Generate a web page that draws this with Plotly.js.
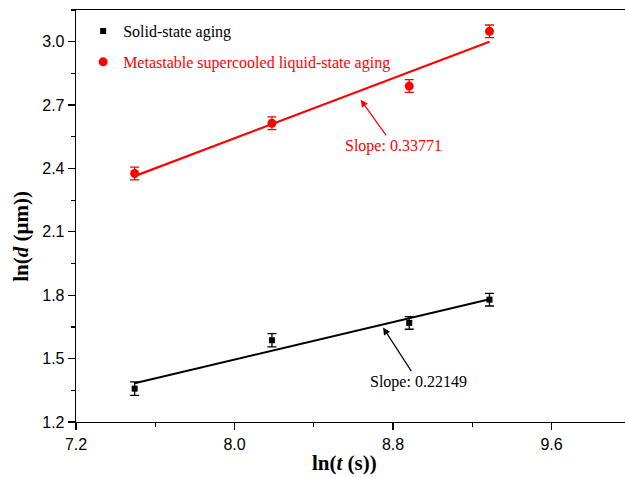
<!DOCTYPE html>
<html>
<head>
<meta charset="utf-8">
<script src="https://cdn.plot.ly/plotly-3.0.1.min.js"></script>
<style>html,body{margin:0;padding:0;background:#fff;}#chart{width:625px;height:477px;}</style>
</head>
<body>
<div id="chart"></div>
<script>
// ln(t) values (s)
const lnT = [7.496, 8.189, 8.882, 9.287];
// Solid-state aging ln(d)
const solidY = [1.358, 1.587, 1.669, 1.779];
const solidErr = [0.032, 0.031, 0.030, 0.030];
// Metastable supercooled liquid-state aging ln(d)
const liquidY = [2.376, 2.614, 2.790, 3.049];
const liquidErr = [0.030, 0.030, 0.030, 0.030];
const seriesNames = ['Solid-state aging', 'Metastable supercooled liquid-state aging'];
const slopeLabels = ['Slope: 0.22149', 'Slope: 0.33771'];
const xTicks = [7.2, 8.0, 8.8, 9.6];
const yTicks = [1.2, 1.5, 1.8, 2.1, 2.4, 2.7, 3.0];

function linfit(x, y) {
  const n = x.length;
  const mx = x.reduce((a, b) => a + b, 0) / n;
  const my = y.reduce((a, b) => a + b, 0) / n;
  let sxy = 0, sxx = 0;
  for (let i = 0; i < n; i++) { sxy += (x[i] - mx) * (y[i] - my); sxx += (x[i] - mx) ** 2; }
  const m = sxy / sxx;
  return { m: m, b: my - m * mx };
}
function fitLine(x, y) {
  const f = linfit(x, y);
  const xs = [x[0], x[x.length - 1]];
  return { x: xs, y: xs.map(v => f.m * v + f.b), f: f };
}
const fS = fitLine(lnT, solidY);
const fL = fitLine(lnT, liquidY);

const serif = 'Liberation Serif, Times New Roman, serif';
const sans = 'Liberation Sans, Arial, sans-serif';

const traces = [
  { x: fS.x, y: fS.y, mode: 'lines', line: { color: '#000', width: 2 }, showlegend: false, hoverinfo: 'skip' },
  { x: fL.x, y: fL.y, mode: 'lines', line: { color: '#ff0000', width: 2.2 }, showlegend: false, hoverinfo: 'skip' },
  { x: lnT, y: solidY, mode: 'markers', name: seriesNames[0], legendgroup: 'a',
    marker: { symbol: 'square', size: 6, color: '#000' },
    error_y: { type: 'data', array: solidErr, visible: true, color: '#000', thickness: 1.3, width: 4.5 } },
  { x: lnT, y: liquidY, mode: 'markers', name: '<span style="color:#ff0000">' + seriesNames[1] + '</span>', legendgroup: 'b',
    marker: { symbol: 'circle', size: 9, color: '#ff0000' },
    error_y: { type: 'data', array: liquidErr, visible: true, color: '#ff0000', thickness: 1.3, width: 4.5 } }
];

const layout = {
  width: 625, height: 477,
  margin: { l: 76, r: 0, t: 10, b: 55, pad: 0 },
  paper_bgcolor: '#fff', plot_bgcolor: '#fff',
  showlegend: true,
  legend: { x: 0.013, y: 0.99, xanchor: 'left', yanchor: 'top', bgcolor: 'rgba(0,0,0,0)',
    font: { family: serif, size: 16, color: '#000' }, tracegroupgap: 7, itemclick: false },
  xaxis: {
    range: [7.2, 9.971], tickvals: xTicks, ticktext: xTicks.map(v => v.toFixed(1)),
    showgrid: false, zeroline: false, showline: true, linecolor: '#000', linewidth: 1.3,
    mirror: true, ticks: 'outside', ticklen: 7, tickwidth: 1.2, tickcolor: '#000',
    tickfont: { family: sans, size: 16, color: '#000' },
    minor: { dtick: 0.4, tick0: 7.2, ticks: 'outside', ticklen: 4, tickwidth: 1.2, tickcolor: '#000', showgrid: false }
  },
  yaxis: {
    range: [1.2, 3.15], tickvals: yTicks, ticktext: yTicks.map(v => v.toFixed(1)),
    showgrid: false, zeroline: false, showline: true, linecolor: '#000', linewidth: 1.3,
    ticks: 'outside', ticklen: 7, tickwidth: 1.2, tickcolor: '#000',
    tickfont: { family: sans, size: 16, color: '#000' },
    minor: { dtick: 0.15, tick0: 1.2, ticks: 'outside', ticklen: 4, tickwidth: 1.2, tickcolor: '#000', showgrid: false }
  },
  annotations: [
    { xref: 'x', yref: 'y', x: 8.750, y: 1.647, ax: 35, ay: 54, text: slopeLabels[0],
      font: { family: serif, size: 16, color: '#000' }, showarrow: true, arrowhead: 2, arrowsize: 1.2,
      arrowwidth: 1.2, arrowcolor: '#000' },
    { xref: 'x', yref: 'y', x: 8.637, y: 2.725, ax: 33, ay: 46, text: slopeLabels[1],
      font: { family: serif, size: 16, color: '#ff0000' }, showarrow: true, arrowhead: 2, arrowsize: 1.2,
      arrowwidth: 1.2, arrowcolor: '#ff0000' },
    { xref: 'paper', yref: 'paper', x: (344 - 76) / 549, y: -(464 - 422.5) / 412.5,
      xanchor: 'center', yanchor: 'middle', showarrow: false,
      text: '<b>ln(<i>t</i> (s))</b>', font: { family: serif, size: 21, color: '#000' } },
    { xref: 'paper', yref: 'paper', x: -(76 - 21) / 549, y: (422.5 - 237) / 412.5,
      xanchor: 'center', yanchor: 'middle', showarrow: false, textangle: -90,
      text: '<b>ln(<i>d</i> (μm))</b>', font: { family: serif, size: 21, color: '#000' } }
  ]
};

Plotly.newPlot('chart', traces, layout, { displayModeBar: false, staticPlot: true });
</script>
</body>
</html>
